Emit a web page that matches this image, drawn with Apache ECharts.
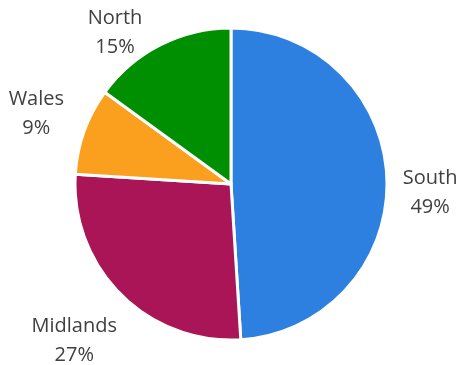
<!DOCTYPE html>
<html>
<head>
<meta charset="utf-8">
<script src="https://cdn.jsdelivr.net/npm/echarts@6/dist/echarts.min.js"></script>
<style>
  html, body { margin: 0; padding: 0; background: #fff; }
  #chart { width: 460px; height: 365px; }
</style>
</head>
<body>
<div id="chart"></div>
<script>
// Regional share, clockwise from 12 o'clock
const regions = ['South', 'Midlands', 'Wales', 'North'];
const shares = [49, 27, 9, 15];
const sliceColors = ['#2e80e0', '#a91556', '#fb9f1e', '#008f00'];

const CX = 231, CY = 184, R = 156;
const LABEL_GAP = 15;
// small manual nudges on top of the radial label placement
const labelShift = { 0: [0, 15], 3: [-21, 35] };

const total = shares.reduce((a, b) => a + b, 0);

const chart = echarts.init(document.getElementById('chart'), null, { renderer: 'canvas' });

chart.setOption({
  animation: false,
  backgroundColor: '#ffffff',
  series: [{
    type: 'pie',
    center: [CX, CY],
    radius: [0, R],
    startAngle: 90,
    clockwise: true,
    avoidLabelOverlap: false,
    data: regions.map((name, i) => ({
      name: name,
      value: shares[i],
      itemStyle: { color: sliceColors[i] }
    })),
    itemStyle: { borderColor: '#ffffff', borderWidth: 3 },
    label: {
      show: true,
      position: 'outside',
      formatter: p => p.name + '\n' + p.value + '%',
      fontFamily: 'Open Sans',
      fontSize: 20,
      lineHeight: 29,
      color: '#404040',
      align: 'center'
    },
    labelLine: { show: false },
    emphasis: { disabled: true },
    labelLayout: function (params) {
      const i = params.dataIndex;
      let before = 0;
      for (let k = 0; k < i; k++) before += shares[k];
      const ang = (before + shares[i] / 2) / total * Math.PI * 2;
      const dx = Math.sin(ang), dy = -Math.cos(ang);
      const w = params.labelRect.width, h = params.labelRect.height;
      const ext = Math.abs(dx) * w / 2 + Math.abs(dy) * h / 2;
      const d = R + LABEL_GAP + ext;
      let x = CX + dx * d, y = CY + dy * d;
      const s = labelShift[i];
      if (s) { x += s[0]; y += s[1]; }
      return { x: x, y: y, align: 'center', verticalAlign: 'middle' };
    }
  }]
});
</script>
</body>
</html>
